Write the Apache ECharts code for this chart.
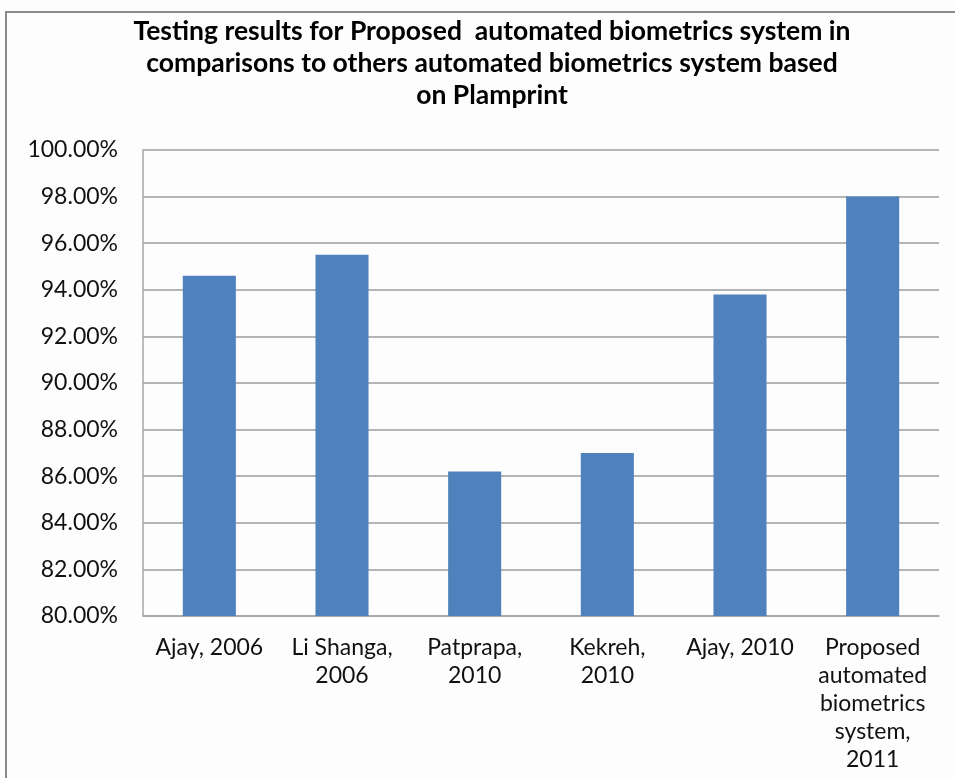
<!DOCTYPE html>
<html>
<head>
<meta charset="utf-8">
<script src="https://cdn.jsdelivr.net/npm/echarts@6/dist/echarts.min.js"></script>
<style>
  html, body { margin: 0; padding: 0; background: #fff; }
  #chart { width: 955px; height: 778px; }
</style>
</head>
<body>
<div id="chart"></div>
<script>
const titleText = 'Testing results for Proposed  automated biometrics system in\ncomparisons to others automated biometrics system based\non Plamprint'
const categories = [
  'Ajay, 2006',
  'Li Shanga,\n2006',
  'Patprapa,\n2010',
  'Kekreh,\n2010',
  'Ajay, 2010',
  'Proposed\nautomated\nbiometrics\nsystem,\n2011'
]
const accuracy = [94.6, 95.5, 86.2, 87.0, 93.8, 98.0]
const yMin = 80
const yMax = 100
const yStep = 2

const font = "Lato, 'Open Sans', sans-serif"
const chart = echarts.init(document.getElementById('chart'))

chart.setOption({
  backgroundColor: '#fdfdfd',
  animation: false,
  graphic: [
    {
      type: 'rect',
      shape: { x: 6, y: 12, width: 1000, height: 800 },
      style: { fill: 'none', stroke: '#8a8a8a', lineWidth: 2 },
      silent: true
    }
  ],
  title: {
    text: titleText,
    left: 487,
    top: 10,
    textAlign: 'center',
    textStyle: {
      fontFamily: font,
      fontWeight: 'bold',
      fontSize: 26.5,
      lineHeight: 32,
      color: '#000'
    }
  },
  grid: { left: 143, right: 16, top: 150, bottom: 162 },
  xAxis: {
    type: 'category',
    data: categories,
    axisLine: { lineStyle: { color: '#a6a6a6', width: 1.5 } },
    axisTick: { show: false },
    axisLabel: {
      interval: 0,
      margin: 18,
      fontFamily: font,
      fontSize: 23,
      lineHeight: 28,
      color: '#111'
    }
  },
  yAxis: {
    type: 'value',
    min: yMin,
    max: yMax,
    interval: yStep,
    axisLine: { show: true, lineStyle: { color: '#a6a6a6', width: 1.5 } },
    axisTick: { show: false },
    splitLine: { lineStyle: { color: '#b4b4b4', width: 2 } },
    axisLabel: {
      margin: 25,
      fontFamily: font,
      fontSize: 23,
      color: '#111',
      formatter: (v) => v.toFixed(2) + '%'
    }
  },
  series: [
    {
      type: 'bar',
      data: accuracy,
      barWidth: '40%',
      itemStyle: { color: '#4f81bd' }
    }
  ]
})
</script>
</body>
</html>
